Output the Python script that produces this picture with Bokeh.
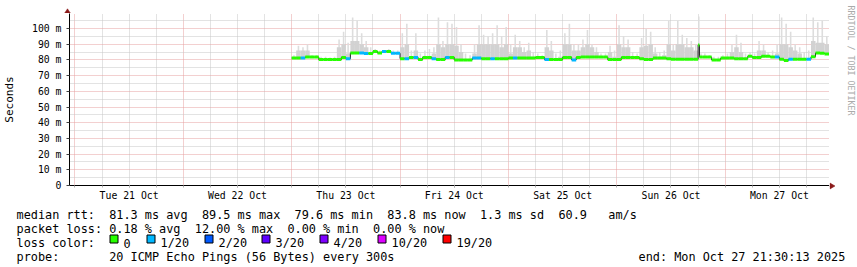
import math
from datetime import datetime, timedelta
from bokeh.plotting import figure
from bokeh.layouts import column, row
from bokeh.models import ColumnDataSource, FixedTicker, DatetimeTickFormatter, Range1d
from bokeh.core.properties import value
from bokeh.embed import file_html
from bokeh.resources import INLINE

# ---------------- data (consolidated samples, hours after Thu 23 Oct 00:00) ----------------
data_start = datetime(2025, 10, 23, 0, 0)
data_end_hours = 119

sample_hours = list(range(0, 91)) + [90.3] + list(range(91, 119))

median = [
    81.2, 81.2, 81.2, 81.8, 81.8, 81.8, 80.2, 80.2, 80.2, 80.2,
    80.2, 81.6, 80.7, 84.4, 84.4, 84.4, 84.0, 84.0, 85.4, 84.4,
    85.4, 85.4, 84.2, 84.2, 80.8, 80.8, 81.6, 81.6, 80.2, 81.6,
    81.6, 80.8, 80.2, 80.2, 81.6, 81.6, 80.0, 80.0, 80.0, 80.0,
    81.2, 81.2, 80.8, 80.8, 80.8, 80.8, 80.8, 80.8, 81.2, 81.2,
    81.2, 81.2, 81.2, 81.2, 81.6, 81.6, 80.2, 80.2, 80.2, 80.2,
    81.6, 81.6, 80.0, 81.6, 81.8, 81.8, 81.8, 81.8, 81.8, 81.8,
    80.2, 80.2, 80.2, 81.6, 81.6, 81.6, 81.6, 80.7, 80.2, 80.2,
    81.2, 81.2, 81.2, 80.7, 80.4, 80.4, 80.4, 80.4, 80.4, 80.4,
    89.5, 81.8, 81.8, 81.8, 80.0, 80.0, 81.2, 81.2, 81.2, 80.8, 80.8,
    80.8, 82.3, 81.6, 81.6, 82.3, 82.3, 81.8, 81.8, 80.4, 79.6,
    80.4, 80.4, 80.4, 80.4, 80.4, 82.0, 84.4, 84.2, 83.8,
]

loss = [  # lost pings out of 20
    0, 0, 1, 0, 0, 0, 0, 0, 0, 0,
    0, 0, 1, 0, 0, 1, 1, 0, 0, 0,
    1, 0, 1, 1, 0, 1, 0, 1, 0, 0,
    0, 1, 0, 0, 1, 0, 0, 0, 0, 0,
    1, 1, 0, 0, 1, 0, 0, 0, 0, 1,
    0, 0, 0, 0, 0, 0, 1, 0, 0, 0,
    0, 0, 1, 0, 0, 0, 0, 0, 0, 0,
    0, 0, 0, 0, 0, 0, 0, 0, 0, 0,
    0, 0, 0, 0, 0, 0, 0, 0, 0, 0,
    0, 0, 0, 0, 0, 0, 0, 0, 0, 0, 0,
    0, 0, 0, 0, 0, 0, 0, 1, 0, 0,
    1, 0, 0, 0, 1, 0, 0, 0, 0,
]

smoke_top = [
    83, 89, 88, 90, 83, 83, 82, 82, 81.5, 82,
    93, 98, 91, 107, 105, 97, 92, 88, 87, 86,
    86, 87, 86, 86, 97, 103, 86, 97, 84, 86,
    87, 88, 107, 92, 104, 103, 101, 90, 84, 83,
    90, 102, 96, 95, 97, 102, 95, 101, 90, 96,
    92, 88, 91, 85, 84, 83, 99, 92, 84, 86,
    97, 103, 90, 90, 93, 99, 90, 88, 84, 84,
    89, 86, 102, 95, 93, 85, 84, 94, 100, 98,
    88, 85, 86, 105, 90, 105, 96, 94, 92, 90,
    107.6, 84, 84, 83, 82, 82, 83, 84, 90, 96, 91,
    84, 85, 84, 92, 90, 85, 86, 90, 107, 103,
    98, 90, 88, 85, 86, 107, 104, 105, 95,
]

smoke_band = [
    81.2, 86, 86, 86, 81.8, 81.8, 80.2, 80.2, 80.2, 80.2,
    88, 90, 84, 92, 92, 90, 88, 85, 86, 85,
    86, 86, 85, 85, 88, 90, 82, 86, 80.2, 82,
    82, 84, 90, 88, 90, 90, 89, 85, 80, 80,
    84, 90, 90, 90, 90, 90, 88, 90, 84, 88,
    88, 85, 86, 82, 81.6, 81.6, 88, 86, 80.2, 82,
    90, 90, 86, 86, 88, 90, 88, 85, 81.8, 81.8,
    85, 82, 90, 88, 88, 81.6, 81.6, 88, 89, 90,
    84, 82, 83, 90, 86, 90, 90, 88, 88, 86,
    90, 81.8, 81.8, 81.8, 80, 80, 81.2, 81.2, 85, 88, 85,
    80.8, 82.3, 81.6, 86, 86, 82.3, 81.8, 84, 90, 90,
    88, 86, 84, 80.4, 81, 92, 91, 91, 90,
]

loss_labels = ["0", "1/20", "2/20", "3/20", "4/20", "10/20", "19/20"]
loss_limits = [0, 1, 2, 3, 4, 10, 19]
loss_colors = ["#26ff00", "#00b8ff", "#0059ff", "#5e00ff", "#7e00ff", "#dd00ff", "#ff0000"]

day_dates = [datetime(2025, 10, d) for d in range(21, 28)]
y_ticks = [0, 10, 20, 30, 40, 50, 60, 70, 80, 90, 100]
y_minor = [5, 15, 25, 35, 45, 55, 65, 75, 85, 95, 105]

rtt_avg, rtt_max, rtt_min, rtt_now, rtt_sd, rtt_ams = 81.3, 89.5, 79.6, 83.8, 1.3, 60.9
loss_avg, loss_max, loss_min, loss_now = 0.18, 12.00, 0.00, 0.00
probe_text = "20 ICMP Echo Pings (56 Bytes) every 300s"
end_text = "end: Mon Oct 27 21:30:13 2025"
credit_text = "RRDTOOL / TOBI OETIKER"

# ---------------- helpers ----------------
EPOCH = datetime(1970, 1, 1)
def ms(dt):
    return (dt - EPOCH).total_seconds() * 1000.0

HOUR = 3600e3
n = len(median)
assert len(sample_hours) == n == len(loss) == len(smoke_top) == len(smoke_band)
ends = sample_hours[1:] + [data_end_hours]
t0 = [ms(data_start + timedelta(hours=h)) for h in sample_hours]
t1 = [ms(data_start + timedelta(hours=h)) for h in ends]
tm = [(a + b) / 2 for a, b in zip(t0, t1)]
dur = [b - a for a, b in zip(t0, t1)]

def loss_color(l):
    for lim, c in zip(loss_limits, loss_colors):
        if l <= lim:
            return c
    return loss_colors[-1]
cols = [loss_color(l) for l in loss]

src = ColumnDataSource(dict(t0=t0, t1=t1, tm=tm, dur=dur, med=median, top=smoke_top,
                            band=smoke_band, col=cols))

MONO = "DejaVu Sans Mono"
MAJ = "#e6a0a0"
MIN = "#c6c6c6"
DASH = "1 1"
ARROW = "#8b1a1a"

def no_align(f):
    try:
        f.frame_align = False
    except AttributeError:
        pass

def blank(w, h, xr, yr):
    f = figure(width=w, height=h, output_backend="svg", toolbar_location=None,
               x_range=Range1d(*xr), y_range=Range1d(*yr),
               x_axis_location=None, y_axis_location=None, min_border=0)
    f.min_border_left = f.min_border_right = f.min_border_top = f.min_border_bottom = 0
    f.title = None
    f.outline_line_color = None
    f.background_fill_color = "white"
    f.border_fill_color = "white"
    f.grid.visible = False
    no_align(f)
    return f

# ---------------- main chart ----------------
x_start = ms(datetime(2025, 10, 21) - timedelta(hours=1.2))
x_end = ms(datetime(2025, 10, 27, 23, 6))
Y_END = 172 / 1.57

p = figure(width=829, height=190, output_backend="svg", toolbar_location=None,
           x_axis_type="datetime",
           x_range=Range1d(x_start, x_end), y_range=Range1d(0, Y_END),
           min_border_left=67, min_border_right=0, min_border_top=0, min_border_bottom=18)
p.title = None
p.outline_line_color = None
p.background_fill_color = "white"
p.border_fill_color = "white"
no_align(p)

noons = [ms(d + timedelta(hours=12)) for d in day_dates]
mids = [ms(d) for d in day_dates]
six = [ms(d + timedelta(hours=hh)) for d in day_dates for hh in (6, 12, 18)]
all6 = sorted(six + mids)

p.xgrid.ticker = FixedTicker(ticks=mids, minor_ticks=six)
yticker = FixedTicker(ticks=y_ticks, minor_ticks=y_minor)
p.ygrid.ticker = yticker
for g in (p.xgrid, p.ygrid):
    g.grid_line_color = MAJ
    g.grid_line_dash = DASH
    g.minor_grid_line_color = MIN
    g.minor_grid_line_dash = DASH

xax = p.xaxis[0]
yax = p.yaxis[0]
fmt = "%a %d %b"
xax.ticker = FixedTicker(ticks=noons, minor_ticks=all6)
xax.formatter = DatetimeTickFormatter(milliseconds=fmt, seconds=fmt, minsec=fmt, minutes=fmt,
                                      hourmin=fmt, hours=fmt, days=fmt, months=fmt, years=fmt)
yax.ticker = yticker
yax.major_label_overrides = {v: ("0" if v == 0 else f"{v} m") for v in y_ticks}

for ax in (xax, yax):
    ax.axis_line_color = "black"
    ax.axis_line_width = 1
    ax.major_label_text_font = MONO
    ax.major_label_text_font_size = "9.8px"
    ax.major_label_text_color = "black"

xax.major_tick_in = 0
xax.major_tick_out = 2
xax.minor_tick_in = 0
xax.minor_tick_out = 2
xax.major_tick_line_color = "#b0b0b0"
xax.minor_tick_line_color = "#b0b0b0"
xax.major_label_standoff = 2

yax.major_tick_in = 0
yax.major_tick_out = 3
yax.minor_tick_line_color = None
yax.major_tick_line_color = "#404040"
yax.major_label_standoff = 4
yax.axis_label = "Seconds"
yax.axis_label_text_font = MONO
yax.axis_label_text_font_size = "11px"
yax.axis_label_text_font_style = "normal"
yax.axis_label_text_color = "black"
yax.axis_label_standoff = 13

# smoke + median
p.vbar(x="tm", width=0.35 * HOUR, bottom="med", top="top", source=src,
       fill_color="#dddddd", line_color=None)
p.vbar(x="tm", width="dur", bottom="med", top="band", source=src,
       fill_color="#d2d2d2", line_color=None)
p.step(x="t0", y="med", mode="after", source=src, line_color="#202020", line_width=1)
p.segment(x0="t0", y0="med", x1="t1", y1="med", source=src, line_color="col",
          line_width=3, line_cap="butt")

# ---------------- strip above the chart (y-axis arrow head) ----------------
top_strip = blank(829, 13, (0, 829), (13, 0))
top_strip.patch(x=[64, 67, 70], y=[12.8, 8.3, 12.8], fill_color=ARROW, line_color=ARROW, line_width=0.5)
top_strip.segment(x0=[67], y0=[12.5], x1=[67], y1=[13], line_color="black", line_width=1)

# ---------------- strip right of the chart (x-axis arrow head, credit) ----------------
right_strip = blank(28, 203, (829, 857), (203, 0))
right_strip.segment(x0=[829], y0=[185.5], x1=[830], y1=[185.5], line_color="black", line_width=1)
right_strip.patch(x=[829.5, 834.5, 829.5], y=[182.5, 185.5, 188.5], fill_color=ARROW,
                  line_color=ARROW, line_width=0.5)
right_strip.text(x=[850], y=[5], text=[credit_text], angle=-math.pi / 2,
                 text_align="left", text_baseline="middle", text_font=value(MONO),
                 text_font_size=value("8.3px"), text_color="#aaaaaa")

# ---------------- legend below ----------------
leg = blank(857, 64, (0, 857), (267, 203))
CW = 7.13
X0 = 16
B1, B2, B3, B4 = 214.3, 228.4, 242.5, 256.6

l1 = [("median rtt:", 0), (f"{rtt_avg:.1f} ms avg", 13), (f"{rtt_max:.1f} ms max", 26),
      (f"{rtt_min:.1f} ms min", 39), (f"{rtt_now:.1f} ms now", 52), (f"{rtt_sd:.1f} ms sd", 65),
      (f"{rtt_ams:.1f}", 76), ("am/s", 83)]
l2 = [("packet loss:", 0), (f"{loss_avg:.2f} % avg", 13), (f"{loss_max:.2f} % max", 25),
      (f"{loss_min:.2f} % min", 38), (f"{loss_now:.2f} % now", 50)]

tx, ty, tt = [], [], []
for t, c in l1:
    tx.append(X0 + c * CW); ty.append(B1); tt.append(t)
for t, c in l2:
    tx.append(X0 + c * CW); ty.append(B2); tt.append(t)
tx.append(X0); ty.append(B3); tt.append("loss color:")

box_left = [109.5, 146.5, 204.5, 261.5, 319.5, 377.5, 442.5]
for bl, t in zip(box_left, loss_labels):
    tx.append(bl + 13.5); ty.append(B3); tt.append(t)

tx += [X0, X0 + 13 * CW, 638]
ty += [B4, B4, B4]
tt += ["probe:", probe_text, end_text]

leg.text(x=tx, y=ty, text=tt, text_font=value(MONO), text_font_size=value("11.85px"),
         text_color="black", text_align="left", text_baseline="alphabetic")
leg.quad(left=box_left, right=[b + 8 for b in box_left], top=[234.5] * 7, bottom=[242.5] * 7,
         fill_color=loss_colors, line_color="black", line_width=1)

layout = column(row(column(top_strip, p), right_strip), leg)

open("out.html", "w").write(file_html(layout, INLINE))
